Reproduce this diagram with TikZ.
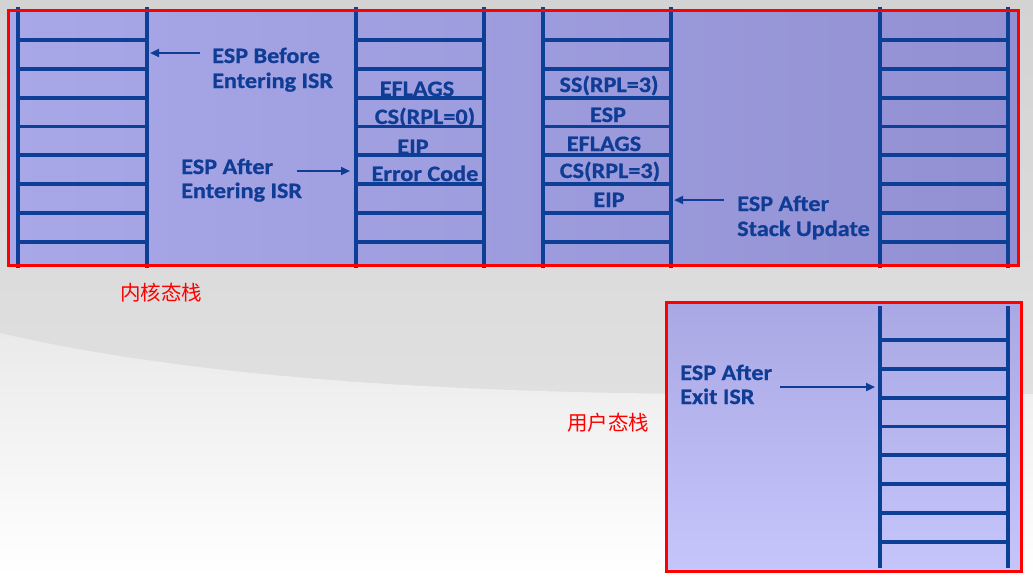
\documentclass[tikz,border=0pt]{standalone}
\usepackage{fontspec}
\usetikzlibrary{arrows.meta}
\newfontfamily\labfont[FakeStretch=1.1, BoldFeatures={FakeBold=0.8}]{Carlito}
\newfontfamily\cjkfont{Noto Sans CJK SC}
\definecolor{espblue}{HTML}{0F3C94}
\definecolor{ladblue}{HTML}{0D3F97}
\definecolor{boxred}{HTML}{FF0000}
\newcommand\drawladder[5]{% x1, x2, ytop, ybottom, first rung
  \draw[ladline] (#1,#3) -- (#1,#4);
  \draw[ladline] (#2,#3) -- (#2,#4);
  \foreach \k in {0,...,7} {\draw[ladline] (#1,#5+\k*28.8) -- (#2,#5+\k*28.8);}
}
\begin{document}
\begin{tikzpicture}[x=1pt,y=-1pt,
  ladline/.style={draw=ladblue, line width=3.8pt},
  lab/.style={font=\labfont\bfseries\fontsize{22}{25}\selectfont, text=espblue, inner sep=0pt, anchor=base west},
  cell/.style={font=\labfont\bfseries\fontsize{22}{25}\selectfont, text=espblue, inner sep=0pt, anchor=base},
  cjk/.style={font=\cjkfont\fontsize{20.5}{24}\selectfont, text=boxred, inner sep=0pt, anchor=west},
  arr/.style={draw=espblue, line width=2.2pt, -{Triangle[length=9pt,width=8pt]}},
  redbox/.style={draw=boxred, line width=3pt}]
\useasboundingbox (0,0) rectangle (1033,576);
% background
\shade[top color={rgb,255:red,211;green,211;blue,211}, bottom color={rgb,255:red,224;green,224;blue,224}] (0,0) rectangle (1033,400);
\shade[top color={rgb,255:red,234;green,234;blue,234}, bottom color=white]
  (0,333) .. controls (180,375) and (420,392) .. (700,394) -- (1033,394) -- (1033,576) -- (0,576) -- cycle;
% top panel fill
\shade[left color={rgb,255:red,168;green,168;blue,233}, right color={rgb,255:red,146;green,144;blue,210}] (8,10) rectangle (1018,265);
% bottom panel fill
\shade[top color={rgb,255:red,169;green,168;blue,228}, bottom color={rgb,255:red,198;green,197;blue,251}] (666,302) rectangle (1021,571);
% ladders
\drawladder{18}{147}{7}{268}{40}
\drawladder{356}{484}{7}{268}{40}
\drawladder{543}{671}{7}{268}{40}
\drawladder{880}{1008}{7}{268}{40}
\drawladder{880}{1008}{306}{568}{340}
% red frames
\draw[redbox] (8,10) rectangle (1018,265);
\draw[redbox] (666,302) rectangle (1021,571);
% labels, left
\node[lab] (eb1) at (212,63) {ESP Before};
\node[lab] (eb2) at (212,88) {Entering ISR};
\node[lab] (ea1) at (181,174) {ESP After};
\node[lab] (ea2) at (181,198) {Entering ISR};
% stack 2
\node[cell] (s2a) at (417,96) {EFLAGS};
\node[cell] (s2b) at (425,124) {CS(RPL=0)};
\node[cell] (s2c) at (413,154) {EIP};
\node[cell] (s2d) at (425,181) {Error Code};
% stack 3
\node[cell] (s3a) at (609,92) {SS(RPL=3)};
\node[cell] (s3b) at (608,122) {ESP};
\node[cell] (s3c) at (604,151) {EFLAGS};
\node[cell] (s3d) at (610,178) {CS(RPL=3)};
\node[cell] (s3e) at (609,207) {EIP};
% right labels
\node[lab] (su1) at (737,211) {ESP After};
\node[lab] (su2) at (737,236) {Stack Update};
\node[lab] (ex1) at (680,380) {ESP After};
\node[lab] (ex2) at (680,404) {Exit ISR};
% chinese labels
\node[cjk] (kst) at (120,293) {内核态栈};
\node[cjk] (ust) at (567,423) {用户态栈};
% arrows
\coordinate (a1s) at (200,53); \coordinate (a1e) at (150,53);
\coordinate (a2s) at (297,171); \coordinate (a2e) at (350,171);
\coordinate (a3s) at (724,200); \coordinate (a3e) at (674,200);
\coordinate (a4s) at (780,387); \coordinate (a4e) at (875,387);
\draw[arr] (a1s) -- (a1e);
\draw[arr] (a2s) -- (a2e);
\draw[arr] (a3s) -- (a3e);
\draw[arr] (a4s) -- (a4e);
\end{tikzpicture}
\end{document}
